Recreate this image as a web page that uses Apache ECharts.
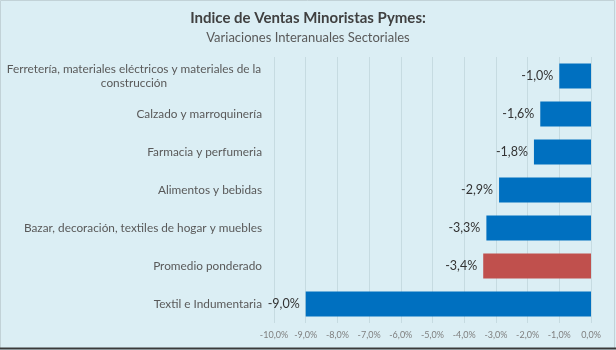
<!DOCTYPE html>
<html><head><meta charset="utf-8">
<script src="https://cdn.jsdelivr.net/npm/echarts@6/dist/echarts.min.js"></script>
<style>html,body{margin:0;padding:0;background:#fff}#c{width:616px;height:350px}</style>
</head><body><div id="c"></div>
<script>
const categories = [
  'Ferretería, materiales eléctricos y materiales de la construcción',
  'Calzado y marroquinería',
  'Farmacia y perfumeria',
  'Alimentos y bebidas',
  'Bazar, decoración, textiles de hogar y muebles',
  'Promedio ponderado',
  'Textil e Indumentaria'
];
const values = [-1.0, -1.6, -1.8, -2.9, -3.3, -3.4, -9.0];
const highlighted = ['Promedio ponderado'];
const title = 'Indice de Ventas Minoristas Pymes:';
const subtitle = 'Variaciones Interanuales Sectoriales';

const FONT = 'Lato, "Open Sans", sans-serif';
const fmt = v => v.toFixed(1).replace('.', ',') + '%';
const chart = echarts.init(document.getElementById('c'), null, {renderer: 'canvas'});
chart.setOption({
  backgroundColor: '#DBEEF4',
  animation: false,
  textStyle: {fontFamily: FONT},
  title: {
    text: title, subtext: subtitle, left: 'center', top: 6, itemGap: 5,
    textStyle: {fontFamily: FONT, fontSize: 15, fontWeight: 'bold', color: '#404040'},
    subtextStyle: {fontFamily: FONT, fontSize: 13, color: '#595959'}
  },
  graphic: [
    {type: 'rect', shape: {x: 0.5, y: 0.5, width: 614, height: 348}, style: {fill: 'none', stroke: '#c2d2d7', lineWidth: 1}, silent: true},
    {type: 'line', shape: {x1: 0, y1: 348.5, x2: 616, y2: 348.5}, style: {stroke: '#3a3a3a', lineWidth: 2}, silent: true}
  ],
  grid: {left: 274, right: 25, top: 57, bottom: 27, containLabel: false, outerBoundsMode: 'none'},
  xAxis: {
    type: 'value', min: -10, max: 0, interval: 1,
    axisLine: {show: false}, axisTick: {show: false},
    splitLine: {show: true, lineStyle: {color: '#c6dbe1', width: 1}},
    axisLabel: {formatter: fmt, fontSize: 9, color: '#7f7f7f', margin: 8, fontFamily: FONT}
  },
  yAxis: {
    type: 'category', data: categories, inverse: true,
    axisLine: {show: false}, axisTick: {show: false},
    axisLabel: {
      margin: 12, fontSize: 11.8, color: '#595959', fontFamily: FONT, lineHeight: 14,
      formatter: v => {
        if (v.indexOf('Ferretería') === 0) {
          return '{c|Ferretería, materiales eléctricos y materiales de la}\n{c|construcción}';
        }
        return v;
      },
      rich: {c: {width: 256, align: 'center', fontSize: 11.8, color: '#595959', fontFamily: FONT, lineHeight: 14}}
    }
  },
  series: [{
    type: 'bar', barWidth: 25,
    data: values.map((v, i) => ({value: v, itemStyle: {color: highlighted.includes(categories[i]) ? '#C0504D' : '#0070C0'}})),
    label: {show: true, position: 'left', distance: 6, formatter: p => fmt(p.value), fontSize: 12.5, color: '#333333', fontFamily: FONT}
  }]
});
</script></body></html>
